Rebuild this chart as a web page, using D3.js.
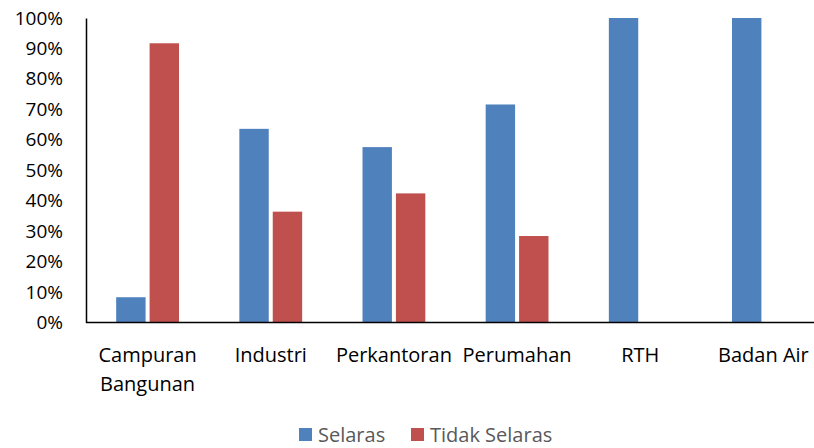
<!DOCTYPE html>
<html>
<head>
<meta charset="utf-8">
<script src="https://cdn.jsdelivr.net/npm/d3@7"></script>
<style>
  body { margin: 0; background: #fff; }
  svg { display: block; font-family: "Open Sans", Lato, sans-serif; }
</style>
</head>
<body>
<svg id="chart" width="814" height="448"></svg>
<script>
"use strict"

const categories = [["Campuran", "Bangunan"], ["Industri"], ["Perkantoran"], ["Perumahan"], ["RTH"], ["Badan Air"]];
const seriesNames = ["Selaras", "Tidak Selaras"];
const selaras = [8.3, 63.6, 57.6, 71.6, 100, 100];
const tidakSelaras = [91.7, 36.4, 42.4, 28.4, 0, 0];
const yTicks = [0, 10, 20, 30, 40, 50, 60, 70, 80, 90, 100];
const colors = ["#4f81bd", "#c0504d"];

const width = 814;
const height = 448;
const margin = { left: 86, top: 18, right: -11, bottom: 125.5 };
const tickFontSize = 19;
const labelFontSize = 20;

const svg = d3.select("#chart");

const x = d3.scaleBand()
    .domain(d3.range(categories.length))
    .range([margin.left, width - margin.right])
    .paddingInner(0)
    .paddingOuter(0);

const x1 = d3.scaleBand()
    .domain([0, 1])
    .range([x.bandwidth() * 0.245, x.bandwidth() * 0.755])
    .paddingInner(0.12);

const y = d3.scaleLinear()
    .domain([0, 100])
    .range([height - margin.bottom, margin.top]);

const rows = categories.map((c, i) => ({ i, values: [selaras[i], tidakSelaras[i]] }));

const groups = svg.selectAll(".group")
    .data(rows)
    .enter()
    .append("g")
        .attr("transform", d => `translate(${x(d.i)},0)`);

groups.selectAll("rect")
    .data(d => d.values.map((v, s) => ({ v, s })).filter(e => e.v > 0))
    .enter()
    .append("rect")
        .attr("x", d => x1(d.s))
        .attr("y", d => y(d.v))
        .attr("width", x1.bandwidth())
        .attr("height", d => y(0) - y(d.v))
        .attr("fill", d => colors[d.s]);

// y axis
const yAxis = svg.append("g")
    .attr("transform", `translate(${margin.left},0)`)
    .call(d3.axisLeft(y).tickValues(yTicks).tickSize(0).tickPadding(23).tickFormat(d => d + "%"));
yAxis.select(".domain").attr("stroke", "#000").attr("stroke-width", 1.5);
yAxis.selectAll("text")
    .attr("font-family", "'Open Sans', sans-serif")
    .attr("font-size", tickFontSize)
    .attr("fill", "#000");

// x axis line
svg.append("line")
    .attr("x1", margin.left)
    .attr("x2", width)
    .attr("y1", y(0))
    .attr("y2", y(0))
    .attr("stroke", "#000")
    .attr("stroke-width", 1.5);

// category labels
const labels = svg.selectAll(".cat")
    .data(categories)
    .enter()
    .append("text")
        .attr("class", "cat")
        .attr("text-anchor", "middle")
        .attr("font-size", labelFontSize)
        .attr("fill", "#000");

labels.selectAll("tspan")
    .data((d, i) => d.map((t, k) => ({ t, k, i })))
    .enter()
    .append("tspan")
        .attr("x", d => x(d.i) + x.bandwidth() / 2)
        .attr("y", d => 362 + d.k * 29)
        .text(d => d.t);

// legend
const legend = svg.append("g");
const legendItems = [
    { name: seriesNames[0], color: colors[0], x: 299 },
    { name: seriesNames[1], color: colors[1], x: 411 }
];
legendItems.forEach(item => {
    legend.append("rect")
        .attr("x", item.x)
        .attr("y", 428)
        .attr("width", 13)
        .attr("height", 13)
        .attr("fill", item.color);
    legend.append("text")
        .attr("x", item.x + 19)
        .attr("y", 442)
        .attr("font-size", labelFontSize)
        .attr("fill", "#595959")
        .text(item.name);
});
</script>
</body>
</html>
